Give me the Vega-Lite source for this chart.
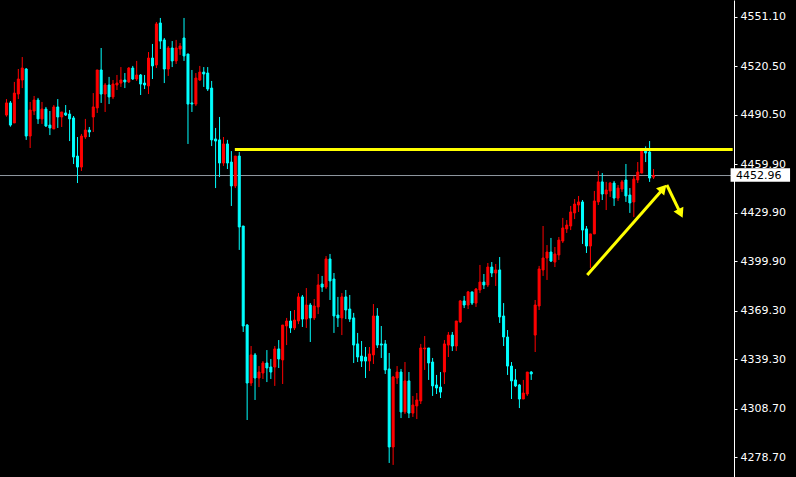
{
  "$schema": "https://vega.github.io/schema/vega-lite/v6.json",
  "width": 734,
  "height": 477,
  "autosize": {"type": "none"},
  "padding": {"left": 0, "top": 0, "right": 62, "bottom": 0},
  "background": "#000000",
  "config": {"view": {"stroke": null}},
  "datasets": {
    "candles": [
      {"i":0,"o":4490.4,"h":4500.3,"l":4489.4,"c":4497.9},
      {"i":1,"o":4497.9,"h":4499.1,"l":4483.2,"c":4484.2},
      {"i":2,"o":4485.5,"h":4510.9,"l":4485.5,"c":4504.0},
      {"i":3,"o":4503.4,"h":4518.9,"l":4500.3,"c":4512.7},
      {"i":4,"o":4512.1,"h":4526.3,"l":4507.1,"c":4519.5},
      {"i":5,"o":4518.9,"h":4519.5,"l":4475.0,"c":4477.4},
      {"i":6,"o":4477.4,"h":4498.5,"l":4470.0,"c":4493.5},
      {"i":7,"o":4492.9,"h":4502.2,"l":4490.4,"c":4499.7},
      {"i":8,"o":4499.7,"h":4501.0,"l":4484.9,"c":4488.0},
      {"i":9,"o":4488.0,"h":4498.5,"l":4484.9,"c":4494.1},
      {"i":10,"o":4494.1,"h":4495.4,"l":4483.0,"c":4483.6},
      {"i":11,"o":4484.2,"h":4492.9,"l":4478.0,"c":4482.4},
      {"i":12,"o":4481.8,"h":4496.6,"l":4481.8,"c":4495.4},
      {"i":13,"o":4495.4,"h":4500.3,"l":4482.4,"c":4489.2},
      {"i":14,"o":4489.2,"h":4492.3,"l":4483.0,"c":4492.3},
      {"i":15,"o":4491.7,"h":4496.6,"l":4489.8,"c":4490.4},
      {"i":16,"o":4491.0,"h":4493.5,"l":4474.3,"c":4488.0},
      {"i":17,"o":4488.6,"h":4489.8,"l":4460.1,"c":4464.4},
      {"i":18,"o":4465.0,"h":4476.8,"l":4448.3,"c":4458.2},
      {"i":19,"o":4458.2,"h":4478.7,"l":4455.8,"c":4477.4},
      {"i":20,"o":4476.8,"h":4488.0,"l":4475.6,"c":4481.1},
      {"i":21,"o":4481.1,"h":4483.0,"l":4476.8,"c":4479.9},
      {"i":22,"o":4489.2,"h":4504.0,"l":4479.9,"c":4495.4},
      {"i":23,"o":4494.8,"h":4518.3,"l":4491.7,"c":4518.3},
      {"i":24,"o":4518.3,"h":4531.9,"l":4497.9,"c":4503.4},
      {"i":25,"o":4503.4,"h":4510.2,"l":4492.3,"c":4509.0},
      {"i":26,"o":4509.0,"h":4514.0,"l":4497.2,"c":4501.6},
      {"i":27,"o":4501.6,"h":4512.1,"l":4500.3,"c":4509.6},
      {"i":28,"o":4509.0,"h":4515.2,"l":4505.9,"c":4510.2},
      {"i":29,"o":4510.2,"h":4520.1,"l":4507.8,"c":4512.1},
      {"i":30,"o":4512.1,"h":4516.4,"l":4507.1,"c":4510.9},
      {"i":31,"o":4510.9,"h":4520.1,"l":4510.2,"c":4519.5},
      {"i":32,"o":4519.5,"h":4520.8,"l":4512.1,"c":4512.7},
      {"i":33,"o":4512.7,"h":4523.9,"l":4511.5,"c":4515.2},
      {"i":34,"o":4515.2,"h":4515.8,"l":4502.8,"c":4509.6},
      {"i":35,"o":4510.2,"h":4515.2,"l":4506.5,"c":4509.0},
      {"i":36,"o":4508.4,"h":4529.4,"l":4503.4,"c":4525.7},
      {"i":37,"o":4525.7,"h":4534.4,"l":4512.7,"c":4520.8},
      {"i":38,"o":4521.4,"h":4548.0,"l":4519.5,"c":4546.8},
      {"i":39,"o":4547.4,"h":4550.5,"l":4531.3,"c":4536.2},
      {"i":40,"o":4536.9,"h":4538.1,"l":4510.2,"c":4518.9},
      {"i":41,"o":4518.9,"h":4533.1,"l":4514.6,"c":4531.9},
      {"i":42,"o":4531.9,"h":4536.2,"l":4520.1,"c":4523.9},
      {"i":43,"o":4523.9,"h":4536.9,"l":4522.0,"c":4531.9},
      {"i":44,"o":4531.3,"h":4535.0,"l":4527.6,"c":4533.1},
      {"i":45,"o":4538.1,"h":4550.5,"l":4523.9,"c":4527.0},
      {"i":46,"o":4528.2,"h":4528.2,"l":4472.5,"c":4497.2},
      {"i":47,"o":4497.9,"h":4518.3,"l":4492.3,"c":4497.2},
      {"i":48,"o":4497.2,"h":4516.4,"l":4496.0,"c":4513.3},
      {"i":49,"o":4512.1,"h":4520.8,"l":4511.5,"c":4517.0},
      {"i":50,"o":4517.0,"h":4520.1,"l":4507.8,"c":4515.8},
      {"i":51,"o":4516.4,"h":4520.1,"l":4505.3,"c":4506.5},
      {"i":52,"o":4507.1,"h":4511.5,"l":4471.2,"c":4475.0},
      {"i":53,"o":4475.6,"h":4482.4,"l":4445.2,"c":4474.3},
      {"i":54,"o":4475.0,"h":4489.2,"l":4452.0,"c":4460.7},
      {"i":55,"o":4460.7,"h":4476.8,"l":4458.9,"c":4472.5},
      {"i":56,"o":4472.5,"h":4475.0,"l":4457.0,"c":4460.7},
      {"i":57,"o":4461.3,"h":4468.1,"l":4434.1,"c":4446.5},
      {"i":58,"o":4446.5,"h":4465.0,"l":4445.2,"c":4465.0},
      {"i":59,"o":4465.0,"h":4467.5,"l":4406.9,"c":4421.1},
      {"i":60,"o":4421.7,"h":4421.7,"l":4356.1,"c":4359.8},
      {"i":61,"o":4360.4,"h":4361.0,"l":4301.6,"c":4324.5},
      {"i":62,"o":4324.5,"h":4347.4,"l":4322.7,"c":4341.9},
      {"i":63,"o":4341.9,"h":4343.1,"l":4314.0,"c":4327.6},
      {"i":64,"o":4327.6,"h":4335.0,"l":4322.0,"c":4331.3},
      {"i":65,"o":4330.7,"h":4338.1,"l":4327.0,"c":4336.9},
      {"i":66,"o":4336.9,"h":4344.9,"l":4325.1,"c":4333.8},
      {"i":67,"o":4334.4,"h":4339.4,"l":4327.0,"c":4331.3},
      {"i":68,"o":4334.4,"h":4347.4,"l":4322.7,"c":4345.6},
      {"i":69,"o":4345.6,"h":4351.1,"l":4333.8,"c":4339.4},
      {"i":70,"o":4338.8,"h":4360.4,"l":4323.9,"c":4360.4},
      {"i":71,"o":4359.8,"h":4364.8,"l":4348.0,"c":4362.9},
      {"i":72,"o":4362.9,"h":4369.1,"l":4355.5,"c":4358.6},
      {"i":73,"o":4358.6,"h":4369.7,"l":4357.3,"c":4363.5},
      {"i":74,"o":4362.9,"h":4380.2,"l":4361.0,"c":4377.8},
      {"i":75,"o":4377.8,"h":4379.0,"l":4359.2,"c":4364.1},
      {"i":76,"o":4364.1,"h":4383.3,"l":4358.6,"c":4372.8},
      {"i":77,"o":4372.8,"h":4374.0,"l":4349.9,"c":4364.8},
      {"i":78,"o":4364.8,"h":4376.5,"l":4363.5,"c":4372.2},
      {"i":79,"o":4371.6,"h":4392.0,"l":4367.2,"c":4385.2},
      {"i":80,"o":4385.8,"h":4390.8,"l":4380.9,"c":4383.9},
      {"i":81,"o":4383.9,"h":4403.1,"l":4382.7,"c":4401.3},
      {"i":82,"o":4401.3,"h":4404.4,"l":4375.9,"c":4387.7},
      {"i":83,"o":4388.9,"h":4392.6,"l":4355.5,"c":4366.0},
      {"i":84,"o":4366.6,"h":4377.8,"l":4359.2,"c":4364.8},
      {"i":85,"o":4364.8,"h":4380.2,"l":4354.2,"c":4377.8},
      {"i":86,"o":4377.8,"h":4382.1,"l":4364.1,"c":4369.7},
      {"i":87,"o":4370.3,"h":4379.0,"l":4362.3,"c":4364.1},
      {"i":88,"o":4364.8,"h":4367.9,"l":4336.9,"c":4348.0},
      {"i":89,"o":4348.7,"h":4355.5,"l":4337.5,"c":4340.6},
      {"i":90,"o":4341.2,"h":4350.5,"l":4334.4,"c":4338.1},
      {"i":91,"o":4340.6,"h":4346.8,"l":4327.6,"c":4338.1},
      {"i":92,"o":4338.1,"h":4346.8,"l":4331.9,"c":4342.5},
      {"i":93,"o":4341.9,"h":4373.4,"l":4336.3,"c":4366.0},
      {"i":94,"o":4366.0,"h":4370.9,"l":4346.2,"c":4348.0},
      {"i":95,"o":4348.7,"h":4359.8,"l":4340.0,"c":4348.0},
      {"i":96,"o":4348.7,"h":4351.1,"l":4330.1,"c":4332.6},
      {"i":97,"o":4333.2,"h":4343.1,"l":4275.0,"c":4284.9},
      {"i":98,"o":4284.9,"h":4328.9,"l":4273.8,"c":4328.2},
      {"i":99,"o":4327.6,"h":4335.0,"l":4323.9,"c":4331.3},
      {"i":100,"o":4331.3,"h":4333.2,"l":4302.8,"c":4306.6},
      {"i":101,"o":4306.6,"h":4337.5,"l":4305.3,"c":4325.8},
      {"i":102,"o":4325.8,"h":4331.3,"l":4302.8,"c":4305.9},
      {"i":103,"o":4305.9,"h":4316.5,"l":4303.5,"c":4310.9},
      {"i":104,"o":4310.3,"h":4318.3,"l":4302.2,"c":4314.0},
      {"i":105,"o":4313.4,"h":4348.7,"l":4311.5,"c":4346.2},
      {"i":106,"o":4345.6,"h":4353.6,"l":4332.6,"c":4346.2},
      {"i":107,"o":4346.2,"h":4346.2,"l":4326.4,"c":4336.9},
      {"i":108,"o":4337.5,"h":4340.0,"l":4316.5,"c":4322.7},
      {"i":109,"o":4323.3,"h":4329.5,"l":4317.7,"c":4321.4},
      {"i":110,"o":4322.0,"h":4331.3,"l":4315.2,"c":4318.9},
      {"i":111,"o":4331.3,"h":4351.1,"l":4323.9,"c":4348.7},
      {"i":112,"o":4348.0,"h":4356.1,"l":4340.6,"c":4354.2},
      {"i":113,"o":4354.2,"h":4356.1,"l":4344.3,"c":4347.4},
      {"i":114,"o":4347.4,"h":4362.9,"l":4344.3,"c":4362.9},
      {"i":115,"o":4362.3,"h":4375.9,"l":4361.7,"c":4375.3},
      {"i":116,"o":4375.3,"h":4378.4,"l":4370.9,"c":4372.8},
      {"i":117,"o":4372.8,"h":4381.5,"l":4370.3,"c":4380.9},
      {"i":118,"o":4380.9,"h":4380.9,"l":4372.8,"c":4374.0},
      {"i":119,"o":4374.0,"h":4383.3,"l":4371.6,"c":4382.7},
      {"i":120,"o":4382.1,"h":4397.6,"l":4380.2,"c":4387.0},
      {"i":121,"o":4387.0,"h":4392.0,"l":4382.7,"c":4385.2},
      {"i":122,"o":4385.2,"h":4398.8,"l":4383.9,"c":4396.3},
      {"i":123,"o":4396.3,"h":4399.4,"l":4390.1,"c":4392.6},
      {"i":124,"o":4392.6,"h":4398.2,"l":4384.6,"c":4394.5},
      {"i":125,"o":4394.5,"h":4402.5,"l":4361.7,"c":4365.4},
      {"i":126,"o":4366.0,"h":4374.0,"l":4347.4,"c":4353.0},
      {"i":127,"o":4353.0,"h":4357.3,"l":4329.5,"c":4335.0},
      {"i":128,"o":4335.0,"h":4337.5,"l":4314.6,"c":4325.8},
      {"i":129,"o":4326.4,"h":4333.2,"l":4322.0,"c":4322.7},
      {"i":130,"o":4323.3,"h":4323.9,"l":4309.0,"c":4314.6},
      {"i":131,"o":4314.6,"h":4326.4,"l":4314.6,"c":4318.3},
      {"i":132,"o":4317.7,"h":4331.3,"l":4316.5,"c":4331.3},
      {"i":133,"o":4331.3,"h":4331.9,"l":4326.4,"c":4330.1},
      {"i":134,"o":4354.2,"h":4375.9,"l":4343.7,"c":4372.8},
      {"i":135,"o":4372.2,"h":4397.0,"l":4369.7,"c":4395.1},
      {"i":136,"o":4394.5,"h":4421.7,"l":4390.8,"c":4401.9},
      {"i":137,"o":4401.9,"h":4409.9,"l":4388.3,"c":4405.6},
      {"i":138,"o":4405.6,"h":4414.3,"l":4399.4,"c":4400.0},
      {"i":139,"o":4399.4,"h":4408.7,"l":4396.3,"c":4404.4},
      {"i":140,"o":4403.8,"h":4414.9,"l":4400.7,"c":4413.0},
      {"i":141,"o":4412.4,"h":4426.7,"l":4411.2,"c":4420.5},
      {"i":142,"o":4419.9,"h":4425.4,"l":4417.4,"c":4422.3},
      {"i":143,"o":4421.7,"h":4434.1,"l":4419.2,"c":4430.4},
      {"i":144,"o":4429.8,"h":4438.4,"l":4426.0,"c":4435.3},
      {"i":145,"o":4434.7,"h":4440.3,"l":4430.4,"c":4436.6},
      {"i":146,"o":4436.6,"h":4437.8,"l":4410.6,"c":4419.2},
      {"i":147,"o":4419.9,"h":4421.7,"l":4405.0,"c":4409.3},
      {"i":148,"o":4409.3,"h":4416.8,"l":4395.7,"c":4416.8},
      {"i":149,"o":4416.8,"h":4443.4,"l":4416.8,"c":4437.2},
      {"i":150,"o":4436.6,"h":4455.8,"l":4434.7,"c":4449.0},
      {"i":151,"o":4449.0,"h":4454.5,"l":4437.8,"c":4441.5},
      {"i":152,"o":4441.5,"h":4449.0,"l":4431.6,"c":4444.0},
      {"i":153,"o":4443.4,"h":4449.0,"l":4439.7,"c":4448.3},
      {"i":154,"o":4448.3,"h":4449.6,"l":4434.1,"c":4439.0},
      {"i":155,"o":4439.0,"h":4447.1,"l":4437.2,"c":4445.2},
      {"i":156,"o":4444.6,"h":4450.2,"l":4442.8,"c":4449.0},
      {"i":157,"o":4450.2,"h":4460.1,"l":4436.6,"c":4440.3},
      {"i":158,"o":4440.9,"h":4445.2,"l":4429.8,"c":4436.0},
      {"i":159,"o":4436.6,"h":4452.7,"l":4427.3,"c":4450.8},
      {"i":160,"o":4450.2,"h":4461.3,"l":4448.3,"c":4455.1},
      {"i":161,"o":4454.5,"h":4470.0,"l":4454.5,"c":4469.5},
      {"i":162,"o":4469.5,"h":4471.0,"l":4461.3,"c":4466.9},
      {"i":163,"o":4467.5,"h":4474.3,"l":4449.0,"c":4451.4},
      {"i":164,"o":4452.0,"h":4457.0,"l":4450.8,"c":4452.96}
    ],
    "resistance": [{"from": 57.875, "to": 184.05, "price": 4469.07}],
    "arrows": [
      {"x1": 147.2, "p1": 4391.4, "x2": 166.4, "p2": 4444.6},
      {"x1": 167.375, "p1": 4447.09, "x2": 170.75, "p2": 4429.94}
    ],
    "last": [{"price": 4452.96}]
  },
  "layer": [
    {
      "data": {"name": "last"},
      "mark": {"type": "rule", "color": "#9098a0", "strokeWidth": 1},
      "encoding": {
        "y": {"field": "price", "type": "quantitative", "scale": {"domain": [4266.32, 4561.62], "nice": false, "zero": false},
          "axis": {"orient": "right", "title": null, "grid": false,
            "values": [4278.7, 4308.7, 4339.3, 4369.3, 4399.9, 4429.9, 4459.9, 4490.5, 4520.5, 4551.1],
            "format": ".2f", "labelColor": "#ffffff", "labelFont": "DejaVu Sans", "labelFontSize": 11,
            "labelPadding": 3, "labelBaseline": "middle", "labelBound": false, "labelOverlap": false, "labelFlush": false,
            "domainColor": "#ffffff", "domainWidth": 1, "tickColor": "#ffffff", "tickSize": 3, "tickWidth": 1}}
      }
    },
    {
      "data": {"name": "candles"},
      "mark": {"type": "rule", "strokeWidth": 1},
      "encoding": {
        "x": {"field": "i", "type": "quantitative", "scale": {"domain": [-0.375, 183.125], "nice": false, "zero": false}, "axis": null},
        "y": {"field": "l", "type": "quantitative"},
        "y2": {"field": "h"},
        "color": {"condition": {"test": "datum.c >= datum.o", "value": "#ff0000"}, "value": "#00ffff"}
      }
    },
    {
      "data": {"name": "candles"},
      "mark": {"type": "bar", "width": 2, "strokeWidth": 1, "orient": "vertical"},
      "encoding": {
        "x": {"field": "i", "type": "quantitative"},
        "y": {"field": "o", "type": "quantitative"},
        "y2": {"field": "c"},
        "fill": {"condition": {"test": "datum.c >= datum.o", "value": "#ff0000"}, "value": "#00ffff"},
        "stroke": {"condition": {"test": "datum.c >= datum.o", "value": "#ff0000"}, "value": "#00ffff"}
      }
    },
    {
      "data": {"name": "resistance"},
      "mark": {"type": "rule", "color": "#ffff00", "strokeWidth": 3},
      "encoding": {
        "x": {"field": "from", "type": "quantitative"},
        "x2": {"field": "to"},
        "y": {"field": "price", "type": "quantitative"}
      }
    },
    {
      "data": {"name": "arrows"},
      "mark": {"type": "rule", "color": "#ffff00", "strokeWidth": 3},
      "encoding": {
        "x": {"field": "x1", "type": "quantitative"},
        "x2": {"field": "x2"},
        "y": {"field": "p1", "type": "quantitative"},
        "y2": {"field": "p2"}
      }
    },
    {
      "data": {"name": "arrows"},
      "transform": [{"filter": "datum.x1 < 160"}],
      "mark": {"type": "point", "shape": "triangle-up", "filled": true, "size": 120, "angle": 41.5, "color": "#ffff00", "opacity": 1},
      "encoding": {
        "x": {"datum": 166.46},
        "y": {"datum": 4444.98}
      }
    },
    {
      "data": {"name": "arrows"},
      "transform": [{"filter": "datum.x1 > 160"}],
      "mark": {"type": "point", "shape": "triangle-up", "filled": true, "size": 120, "angle": 154, "color": "#ffff00", "opacity": 1},
      "encoding": {
        "x": {"datum": 170.85},
        "y": {"datum": 4429.51}
      }
    },
    {
      "data": {"name": "last"},
      "mark": {"type": "rect", "color": "#ffffff"},
      "encoding": {
        "x": {"datum": 183.525},
        "x2": {"datum": 198.6},
        "y": {"datum": 4457.43},
        "y2": {"datum": 4449.13}
      }
    },
    {
      "data": {"name": "last"},
      "mark": {"type": "text", "color": "#000000", "font": "DejaVu Sans", "fontSize": 11, "align": "left", "baseline": "middle"},
      "encoding": {
        "x": {"datum": 184.875},
        "y": {"field": "price", "type": "quantitative"},
        "text": {"field": "price", "type": "quantitative", "format": ".2f"}
      }
    }
  ]
}
